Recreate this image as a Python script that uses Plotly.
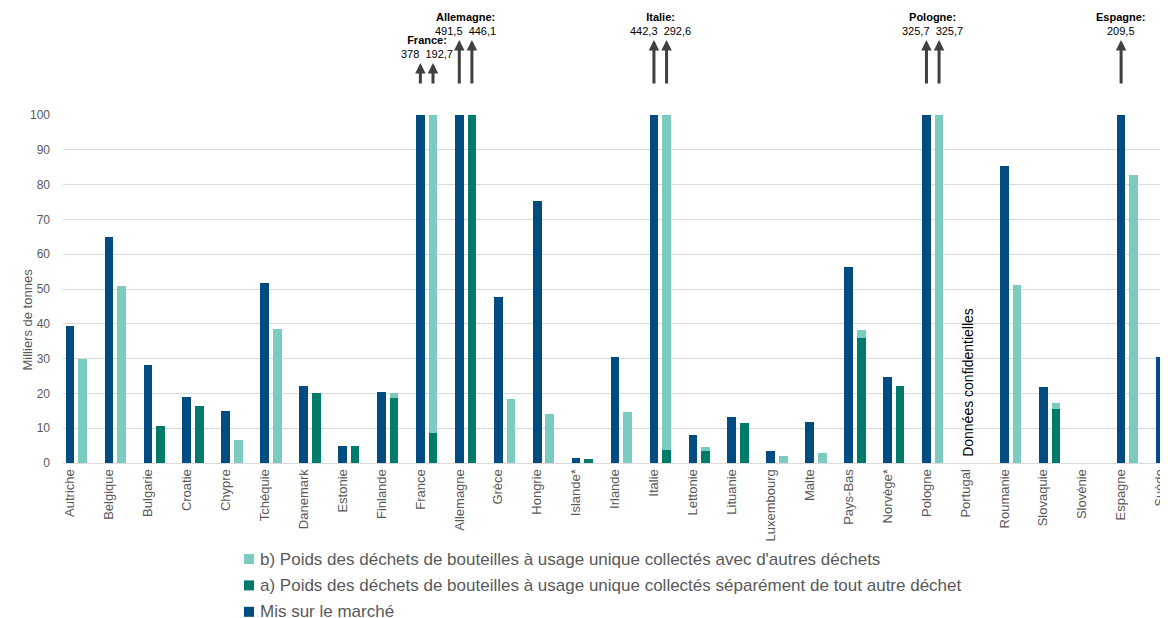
import plotly.graph_objects as go

countries = ["Autriche", "Belgique", "Bulgarie", "Croatie", "Chypre", "Tchéquie", "Danemark",
             "Estonie", "Finlande", "France", "Allemagne", "Grèce", "Hongrie", "Islande*",
             "Irlande", "Italie", "Lettonie", "Lituanie", "Luxembourg", "Malte", "Pays-Bas",
             "Norvège*", "Pologne", "Portugal", "Roumanie", "Slovaquie", "Slovénie", "Espagne",
             "Suède"]
# Mis sur le marché (milliers de tonnes)
market = [39.5, 65.0, 28.1, 18.9, 15.0, 51.8, 22.1, 5.0, 20.4, 378.0, 491.5, 47.7, 75.2, 1.5,
          30.6, 442.3, 8.1, 13.1, 3.5, 11.9, 56.4, 24.8, 325.7, None, 85.4, 21.7, None, 209.5,
          30.5]
# a) collectés séparément
sep_a = [0, 0, 10.6, 16.3, 0, 0, 20.2, 5.0, 18.7, 8.6, 446.1, 0, 0, 1.2,
         0, 3.6, 3.5, 11.4, 0, 0, 36.0, 22.1, 0, None, 0, 15.5, None, 0,
         None]
# b) collectés avec d'autres déchets
mixed_b = [30.0, 50.8, 0, 0, 6.7, 38.4, 0, 0, 1.5, 184.1, 0, 18.3, 14.2, 0,
           14.8, 289.0, 1.1, 0, 2.0, 2.9, 2.2, 0, 325.7, None, 51.2, 1.6, None, 82.7,
           None]
confidential = ["Portugal"]
name_market = "Mis sur le marché"
name_a = "a) Poids des déchets de bouteilles à usage unique collectés séparément de tout autre déchet"
name_b = "b) Poids des déchets de bouteilles à usage unique collectés avec d'autres déchets"

C_MARKET = "#004B80"
C_A = "#007A6B"
C_B = "#7CCBC1"
GRAY = "#595959"
FONT = "Liberation Sans, Arial, sans-serif"

YMAX = 100
BW = 0.223
OFF = 0.324
idx = list(range(len(countries)))
x_coll = [i + OFF for i in idx]

# page geometry (the html body adds an 8 px offset to the figure)
BODY = 8
W, H = 1168 - BODY, 618 - BODY
PL, PR, PT, PB = 63, 1168, 115, 463   # plot area in page pixels

def paper_y(py):
    return (PB - py) / (PB - PT)

def paper_x(px):
    return (px - PL) / (PR - PL)

fig = go.Figure()
fig.add_trace(go.Bar(x=idx, y=market, name=name_market, width=BW, marker_color=C_MARKET,
                     marker_line_width=0))
fig.add_trace(go.Bar(x=x_coll, y=sep_a, name=name_a, width=BW, marker_color=C_A,
                     marker_line_width=0))
fig.add_trace(go.Bar(x=x_coll, y=mixed_b, name=name_b, width=BW, marker_color=C_B,
                     marker_line_width=0))

def fmt(v):
    return ("%g" % v).replace(".", ",")

annotations = []
shapes = []
for i, c in enumerate(countries):
    m = market[i]
    tot = None
    if sep_a[i] is not None and mixed_b[i] is not None:
        tot = sep_a[i] + mixed_b[i]
    over = []
    if m is not None and m > YMAX:
        over.append((i, m))
    if tot is not None and tot > YMAX:
        over.append((i + OFF, tot))
    if not over:
        continue
    head_px = 63 if c == "France" else 40
    for xpos, v in over:
        annotations.append(dict(x=xpos, xref="x", y=paper_y(head_px), yref="paper",
                                ax=0, ay=85 - head_px, axref="pixel", ayref="pixel",
                                showarrow=True, arrowhead=2, arrowsize=0.7, arrowwidth=3,
                                arrowcolor="#404040", text=""))
    xc = sum(p for p, _ in over) / len(over)
    annotations.append(dict(x=xc, xref="x", y=paper_y(head_px - 1), yref="paper",
                            yanchor="bottom", xanchor="center", showarrow=False,
                            text="<b>%s:</b><br>%s" % (c.rstrip("*"),
                                                        "  ".join(fmt(v) for _, v in over)),
                            font=dict(family=FONT, size=11, color="#000000")))

for c in confidential:
    i = countries.index(c)
    annotations.append(dict(x=i, xref="x", y=0, yref="y", yanchor="bottom", xanchor="center",
                            xshift=2, yshift=4, textangle=-90, showarrow=False,
                            text="Données confidentielles",
                            font=dict(family=FONT, size=14, color="#000000")))

annotations.append(dict(x=paper_x(17), xref="paper", y=paper_y(320), yref="paper",
                        textangle=-90, showarrow=False, text="Milliers de tonnes",
                        font=dict(family=FONT, size=13, color=GRAY)))

# legend (b, a, market) drawn below the axis labels
legend_items = [(name_b, C_B), (name_a, C_A), (name_market, C_MARKET)]
for k, (nm, col) in enumerate(legend_items):
    cy = 559 + 26.4 * k
    shapes.append(dict(type="rect", xref="paper", yref="paper",
                       x0=paper_x(244), x1=paper_x(254),
                       y0=paper_y(cy + 5), y1=paper_y(cy - 5),
                       fillcolor=col, line=dict(width=0)))
    annotations.append(dict(x=paper_x(258), xref="paper", y=paper_y(cy), yref="paper",
                            xanchor="left", yanchor="middle", showarrow=False, text=nm,
                            font=dict(family=FONT, size=17, color=GRAY)))

fig.update_layout(
    width=W, height=H, autosize=False,
    margin=dict(l=PL - BODY, r=0, t=PT - BODY, b=H - (PB - BODY), pad=0),
    barmode="stack",
    plot_bgcolor="white", paper_bgcolor="white",
    font=dict(family=FONT, color=GRAY),
    showlegend=False,
    annotations=annotations,
    shapes=shapes,
    xaxis=dict(range=[-0.18, 28.205], tickmode="array", tickvals=idx, ticktext=countries,
               tickangle=-90, showgrid=False, zeroline=False, showline=True,
               linecolor="#d9d9d9", linewidth=1, ticks="", automargin=False,
               tickfont=dict(family=FONT, size=13, color=GRAY)),
    yaxis=dict(range=[0, YMAX], dtick=10, showgrid=True, gridcolor="#d9d9d9", gridwidth=1,
               zeroline=False, showline=False, ticks="", ticklabelstandoff=12,
               automargin=False,
               tickfont=dict(family=FONT, size=12, color=GRAY)),
)

fig.write_html("out.html")
